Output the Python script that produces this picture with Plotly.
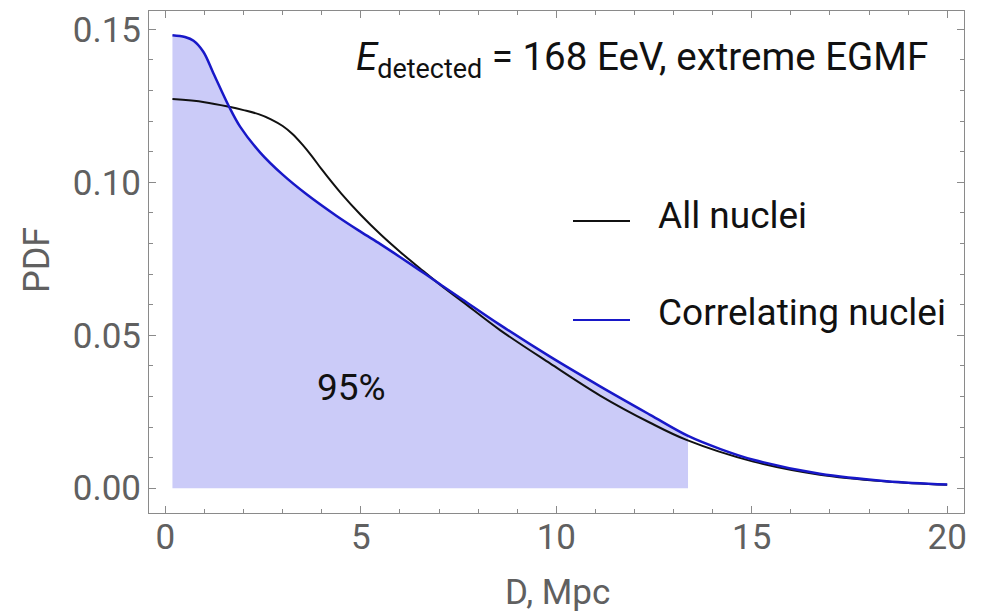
import plotly.graph_objects as go

# ---- data ----
all_x = [0.18, 1.0, 1.63, 2.0, 2.4, 2.7, 3.0, 3.25, 3.5, 3.75, 4.0, 4.5, 5.0,
         5.5, 6.0, 6.5, 7.0, 7.6, 8.56, 9.84, 11.12, 12.4, 13.33, 15.04,
         16.74, 18.45, 20.0]
all_y = [0.1272, 0.1262, 0.1247, 0.1236, 0.1222, 0.1206, 0.1184, 0.1158,
         0.1124, 0.1085, 0.1042, 0.0963, 0.0893, 0.0830, 0.0773, 0.0720,
         0.0668, 0.0610, 0.0517, 0.0408, 0.0303, 0.0214, 0.0158, 0.0087,
         0.0044, 0.0022, 0.0011]

cor_x = [0.18, 0.5, 0.72, 0.97, 1.23, 1.63, 1.91, 2.42, 3.0, 3.62, 4.38, 5.0,
         5.5, 6.0, 6.5, 7.0, 7.6, 8.56, 9.84, 11.12, 12.4, 13.37, 14.2,
         15.04, 16.74, 18.45, 20.0]
cor_y = [0.1481, 0.1475, 0.1463, 0.1427, 0.1356, 0.1247, 0.1182, 0.1098,
         0.1025, 0.0960, 0.0890, 0.0838, 0.0798, 0.0756, 0.0713, 0.0669,
         0.0617, 0.0534, 0.0430, 0.0333, 0.0240, 0.0171, 0.0128,
         0.0093, 0.0047, 0.0023, 0.0012]

fill_end = 13.37  # upper limit of the 95% region
fill_x = [x for x in cor_x if x <= fill_end]
fill_y = cor_y[:len(fill_x)]

x_ticks = [0, 5, 10, 15, 20]
y_ticks = [0.00, 0.05, 0.10, 0.15]

FONT = "Roboto"
GRAY = "#606060"
FRAME = "#8a8a8a"
BLUE = "#1818c8"

fig = go.Figure()
fig.add_trace(go.Scatter(x=fill_x, y=fill_y, mode="lines", fill="tozeroy",
                         fillcolor="#cbcbf8", line=dict(width=0, shape="spline"),
                         hoverinfo="skip", showlegend=False))
fig.add_trace(go.Scatter(x=all_x, y=all_y, mode="lines", name="All nuclei",
                         line=dict(color="#111111", width=2, shape="spline"),
                         showlegend=False))
fig.add_trace(go.Scatter(x=cor_x, y=cor_y, mode="lines", name="Correlating nuclei",
                         line=dict(color=BLUE, width=2.5, shape="spline"),
                         showlegend=False))

axis_common = dict(showgrid=False, zeroline=False, showline=True, linecolor=FRAME,
                   linewidth=1, mirror="ticks", ticks="inside", tickcolor=FRAME,
                   ticklen=7, tickwidth=1, automargin=False,
                   tickfont=dict(family=FONT, size=35, color=GRAY))

fig.update_xaxes(range=[-0.42, 20.43], tickvals=x_ticks, ticklabelstandoff=-7,
                 minor=dict(dtick=1, ticks="inside", ticklen=4, tickcolor=FRAME),
                 **axis_common)
fig.update_yaxes(range=[-0.0081, 0.156], tickvals=y_ticks, tickformat=".2f",
                 ticklabelstandoff=0,
                 minor=dict(dtick=0.01, ticks="inside", ticklen=4, tickcolor=FRAME),
                 **axis_common)

def px(xp):
    return (xp - 149) / 815

def py(yp):
    return (513 - yp) / 502

ann = [
    dict(text="<i>E</i><sub>detected</sub> = 168 EeV, extreme EGMF",
         x=px(642), y=py(59), font=dict(family=FONT, size=38.5, color="#111111"),
         xanchor="center"),
    dict(text="All nuclei", x=px(656), y=py(216), xanchor="left",
         font=dict(family=FONT, size=37, color="#111111")),
    dict(text="Correlating nuclei", x=px(656), y=py(312), xanchor="left",
         font=dict(family=FONT, size=37, color="#111111")),
    dict(text="95%", x=px(351), y=py(387), xanchor="center",
         font=dict(family=FONT, size=37, color="#111111")),
    dict(text="D, Mpc", x=px(557), y=py(592), xanchor="center",
         font=dict(family=FONT, size=35, color=GRAY)),
    dict(text="PDF", x=px(37), y=py(260), xanchor="center", textangle=-90,
         font=dict(family=FONT, size=36, color=GRAY)),
]
for a in ann:
    a.update(xref="paper", yref="paper", showarrow=False, yanchor="middle")

shapes = [
    dict(type="line", xref="paper", yref="paper", x0=px(573), x1=px(630),
         y0=py(221), y1=py(221), line=dict(color="#111111", width=2)),
    dict(type="line", xref="paper", yref="paper", x0=px(573), x1=px(630),
         y0=py(320), y1=py(320), line=dict(color=BLUE, width=2)),
]

fig.update_layout(width=982, height=614, margin=dict(l=149, r=18, t=11, b=101),
                  plot_bgcolor="white", paper_bgcolor="white",
                  annotations=ann, shapes=shapes, showlegend=False)

fig.write_html("out.html", config={"displayModeBar": False},
               post_script="document.body.style.margin='0';document.body.style.padding='0';")
